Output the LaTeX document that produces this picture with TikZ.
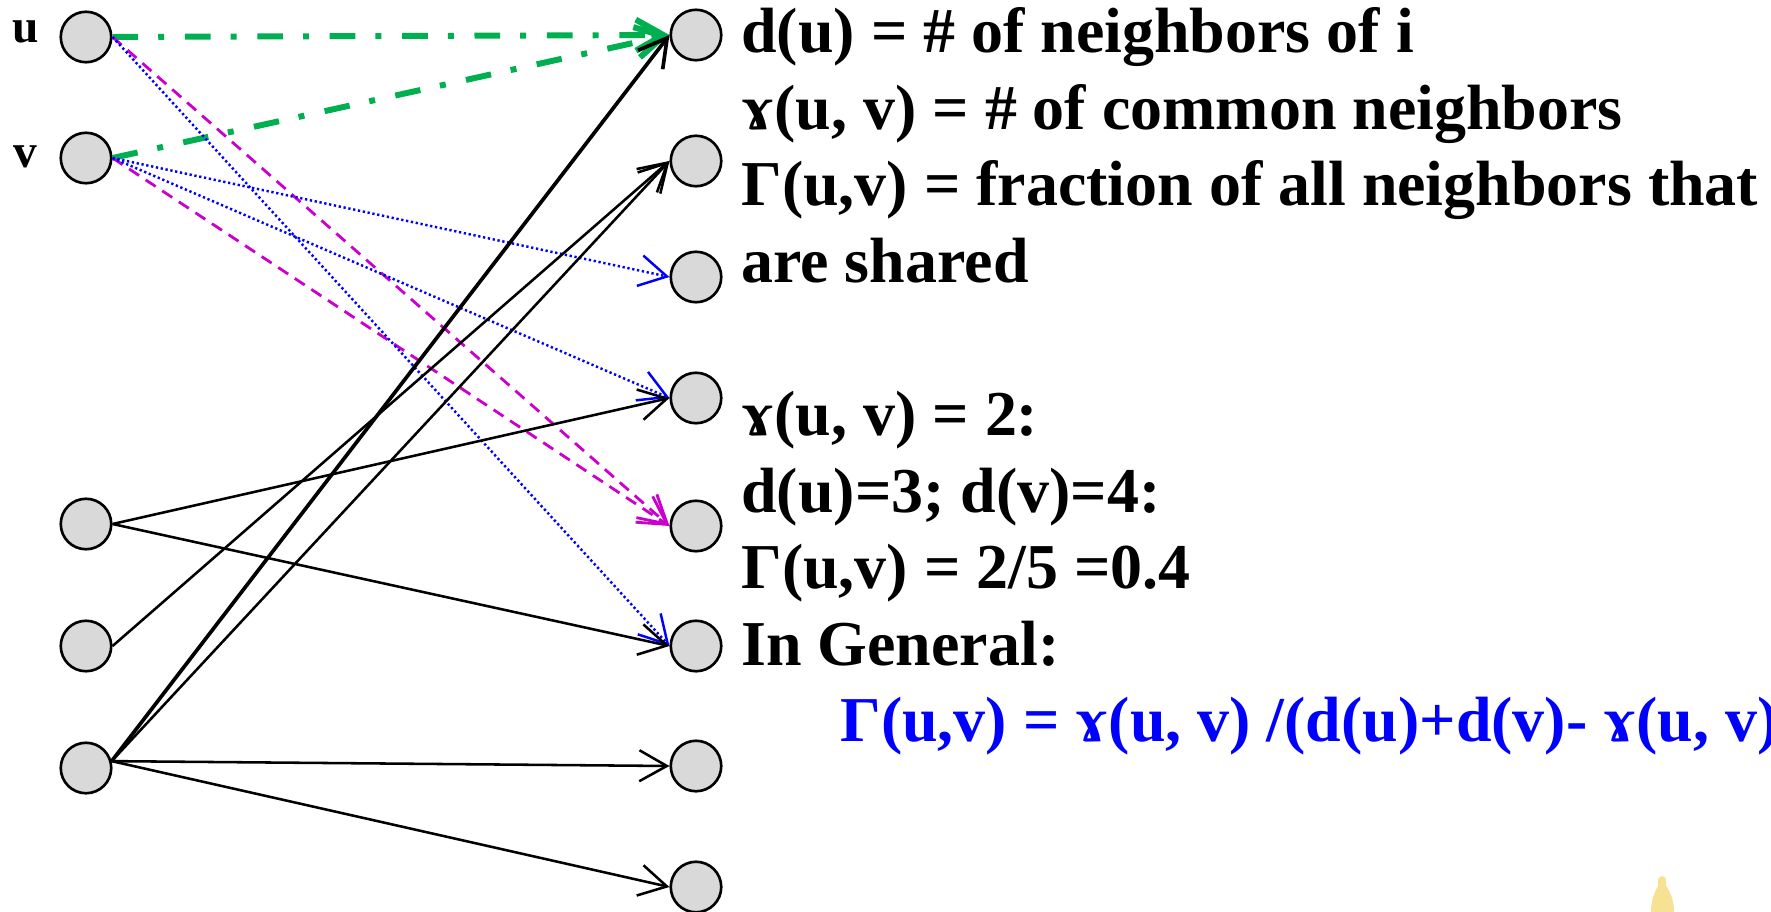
\documentclass[tikz,border=0pt]{standalone}
\usepackage{fontspec}
\setmainfont{Liberation Serif}
\usetikzlibrary{arrows.meta}
\definecolor{ptgreen}{RGB}{0,176,80}
\definecolor{ptmagenta}{RGB}{204,0,204}
\definecolor{ptblue}{RGB}{0,0,255}
\definecolor{ptgray}{RGB}{217,217,217}
\definecolor{ptyellow}{RGB}{246,226,146}
\begin{document}
\begin{tikzpicture}[x=0.02cm,y=-0.02cm,
  >={Straight Barb[length=0.55cm,width=0.62cm]},
  vtx/.style={circle,draw,line width=1.5pt,fill=ptgray,minimum size=1.01cm,inner sep=0pt},
  txt/.style={anchor=base west,inner sep=0pt,font=\bfseries\fontsize{36.4}{44}\selectfont},
  lbl/.style={anchor=base west,inner sep=0pt,font=\bfseries\fontsize{27}{30}\selectfont},
  link/.style={->,line width=1.45pt},
  common/.style={->,ptgreen,line width=3.4pt,dash pattern=on 14.6pt off 11.4pt on 3.4pt off 11.8pt},
  commontoo/.style={->,ptmagenta,line width=1.6pt,dash pattern=on 6.8pt off 4.5pt},
  single/.style={->,ptblue,line width=1.4pt,dash pattern=on 1.3pt off 1.5pt}]
\useasboundingbox (0,0) rectangle (1771,912);
\clip (0,0) rectangle (1771,912);

% left side
\node[vtx] (u) at (86,37) {};
\node[vtx] (v) at (86,158) {};
\node[vtx] (a) at (86,524) {};
\node[vtx] (b) at (86,646) {};
\node[vtx] (c) at (86,768) {};
\node[lbl] (lu) at (12,43) {u};
\node[lbl] (lv) at (13,168) {v};

% right side
\node[vtx] (r1) at (696,35) {};
\node[vtx] (r2) at (696,161) {};
\node[vtx] (r3) at (696,277) {};
\node[vtx] (r4) at (696,398) {};
\node[vtx] (r5) at (696,526) {};
\node[vtx] (r6) at (696,646) {};
\node[vtx] (r7) at (696,766) {};
\node[vtx] (r8) at (696,887) {};

% neighbors of u and v
\draw[common] (u.east) -- (r1.west);
\draw[common] (v.east) -- (r1.west);
\draw[commontoo] (u.east) -- (r5.west);
\draw[commontoo] (v.east) -- (r5.west);
\draw[single] (u.east) -- (r6.west);
\draw[single] (v.east) -- (r3.west);
\draw[single] (v.east) -- (r4.west);

% other edges
\draw[link] (a.east) -- (r4.west);
\draw[link] (a.east) -- (r6.west);
\draw[link] (b.east) -- (r2.west);
\draw[link,line width=2.1pt] (c.15) -- (r1.west);
\draw[link] (c.15) -- (r2.west);
\draw[link] (c.15) -- (r7.west);
\draw[link] (c.15) -- (r8.west);

\node[txt] (t1) at (741,53) {d(u) = \# of neighbors of i};
\node[txt] (t2) at (741,129.5) {ɤ(u, v) = \# of common neighbors};
\node[txt] (t3) at (741,206) {Γ(u,v) = fraction of all neighbors that};
\node[txt] (t4) at (741,282.5) {are shared};
\node[txt] (t5) at (741,435.5) {ɤ(u, v) = 2:};
\node[txt] (t6) at (741,512) {d(u)=3; d(v)=4:};
\node[txt] (t7) at (741,588.5) {Γ(u,v) = 2/5 =0.4};
\node[txt] (t8) at (741,665) {In General:};
\node[txt,text=ptblue] (t9) at (840,741.5) {Γ(u,v) = ɤ(u, v) /(d(u)+d(v)- ɤ(u, v))};

\fill[ptyellow] (1651,912) .. controls (1651,898) and (1656,890) .. (1658,886) -- (1658,882)
  .. controls (1657,874) and (1667,874) .. (1666,882) -- (1666,886)
  .. controls (1669,890) and (1674,898) .. (1674,912) -- cycle;
\end{tikzpicture}
\end{document}
